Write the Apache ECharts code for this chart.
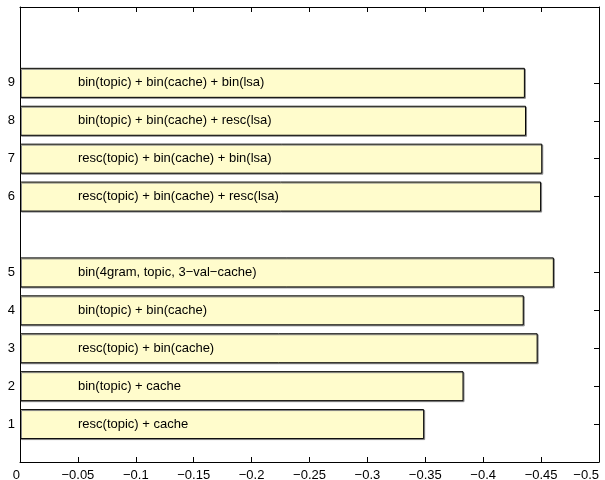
<!DOCTYPE html>
<html>
<head>
<meta charset="utf-8">
<script src="https://cdn.jsdelivr.net/npm/echarts@6/dist/echarts.min.js"></script>
<style>
  html, body { margin: 0; padding: 0; background: #fff; }
  #main { width: 605px; height: 480px; }
</style>
</head>
<body>
<div id="main"></div>
<script>
// row labels, their slot on the y scale, and the scores
const rowLabels = ['1', '2', '3', '4', '5', '6', '7', '8', '9'];
const rowSlots = [1, 2, 3, 4, 5, 7, 8, 9, 10];
const scores = [-0.349, -0.383, -0.447, -0.435, -0.461, -0.450, -0.451, -0.437, -0.436];
const barNames = [
  'resc(topic) + cache',
  'bin(topic) + cache',
  'resc(topic) + bin(cache)',
  'bin(topic) + bin(cache)',
  'bin(4gram, topic, 3\u2212val\u2212cache)',
  'resc(topic) + bin(cache) + resc(lsa)',
  'resc(topic) + bin(cache) + bin(lsa)',
  'bin(topic) + bin(cache) + resc(lsa)',
  'bin(topic) + bin(cache) + bin(lsa)'
];
const yMin = 0, yMax = 12, yStep = 0.5;

// half-step category scale so the gaps and margins come out right
const slots = [];
for (let p = yMin; p <= yMax + 1e-9; p += yStep) slots.push(p);
const categories = slots.map(p => {
  const i = rowSlots.indexOf(p);
  return i >= 0 ? rowLabels[i] : '';
});
const barData = slots.map(p => {
  const i = rowSlots.indexOf(p);
  return i >= 0 ? { value: scores[i], name: barNames[i] } : '-';
});

const font = 'Helvetica, "Liberation Sans", Arial, sans-serif';
const fmtX = v => v === 0 ? '0' : String(+v.toFixed(2)).replace('-', '\u2212');
const xBase = {
  type: 'value', min: -0.5, max: 0, interval: 0.05, inverse: true,
  axisLine: { show: true, onZero: false, lineStyle: { color: '#000', width: 1 } },
  axisTick: { show: true, inside: true, length: 5, lineStyle: { color: '#000' } },
  splitLine: { show: false }
};
const yBase = {
  type: 'category', data: categories, boundaryGap: false,
  axisLine: { show: true, onZero: false, lineStyle: { color: '#000', width: 1 } },
  axisTick: { show: true, inside: true, length: 5, interval: (i, v) => v !== '', lineStyle: { color: '#000' } },
  splitLine: { show: false }
};

const chart = echarts.init(document.getElementById('main'));
chart.setOption({
  animation: false,
  backgroundColor: '#fff',
  grid: { left: 20, right: 6, top: 7, bottom: 18, containLabel: false, outerBoundsMode: 'none' },
  xAxis: [
    Object.assign({}, xBase, { position: 'bottom',
      axisLabel: { margin: 7, color: '#000', fontSize: 13, fontFamily: font, formatter: fmtX,
        showMaxLabel: true, showMinLabel: true, hideOverlap: false,
        alignMinLabel: 'right', alignMaxLabel: 'right' } }),
    Object.assign({}, xBase, { position: 'top', axisLabel: { show: false } })
  ],
  yAxis: [
    Object.assign({}, yBase, { position: 'left',
      axisLabel: { margin: 5, color: '#000', fontSize: 13, fontFamily: font, interval: 0 } }),
    Object.assign({}, yBase, { position: 'right', axisLabel: { show: false } })
  ],
  series: [{
    type: 'bar',
    xAxisIndex: 0,
    yAxisIndex: 0,
    data: barData,
    barWidth: 30,
    itemStyle: {
      color: '#fffccc',
      borderColor: '#000',
      borderWidth: 1,
      shadowColor: '#8a8a8a',
      shadowBlur: 0,
      shadowOffsetX: 1,
      shadowOffsetY: 1
    },
    label: {
      show: true,
      position: [58, '50%'],
      verticalAlign: 'middle',
      align: 'left',
      color: '#000',
      fontSize: 13,
      fontFamily: font,
      formatter: p => p.name
    }
  }]
});
</script>
</body>
</html>
